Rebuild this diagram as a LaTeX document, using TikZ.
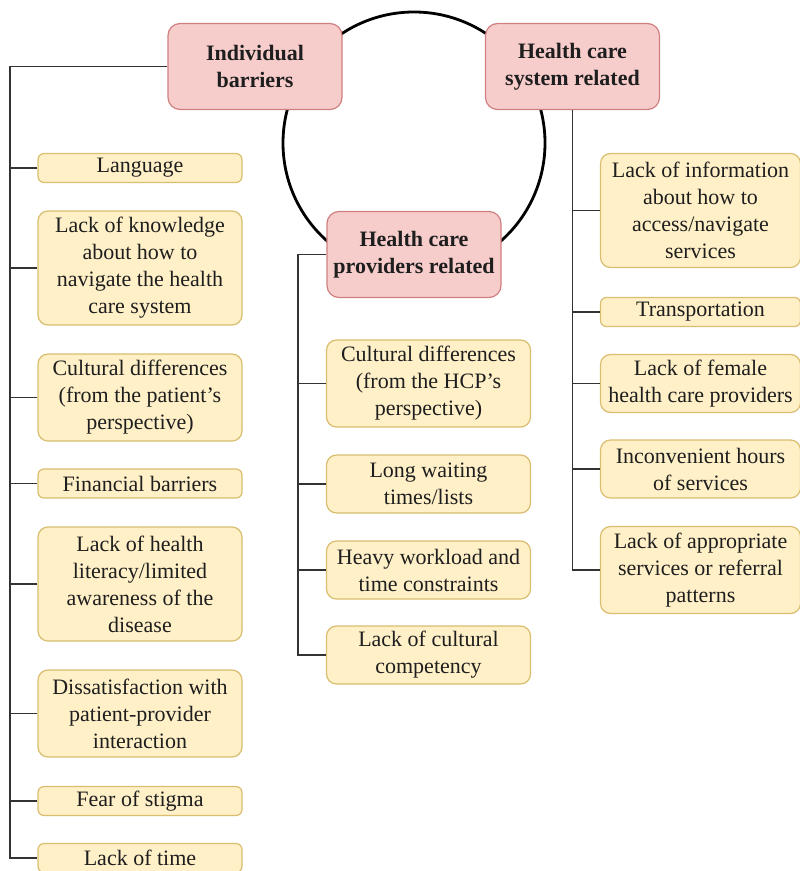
\documentclass[tikz,border=0pt]{standalone}
\usepackage{fontspec}
\setmainfont{Liberation Serif}
\definecolor{pinkfill}{HTML}{F7CDCC}
\definecolor{pinkline}{HTML}{CF7F80}
\definecolor{yelfill}{HTML}{FFF0C8}
\definecolor{yelline}{HTML}{DABD6E}
\definecolor{txt}{HTML}{1E1E1E}
\tikzset{
  head/.style={draw=pinkline, fill=pinkfill, rounded corners=6pt, line width=0.6pt,
    minimum width=87pt, minimum height=43pt, inner sep=0pt, align=center,
    text=txt, font=\bfseries\fontsize{11}{13.5}\selectfont},
  item/.style={draw=yelline, fill=yelfill, rounded corners=5pt, line width=0.6pt,
    inner sep=0pt, align=center, text=txt, font=\fontsize{11}{13.5}\selectfont},
  lcol/.style={item, minimum width=102pt},
  rcol/.style={item, minimum width=100pt},
  one/.style={minimum height=14.5pt, rounded corners=3pt},
  two/.style={minimum height=29pt},
  three/.style={minimum height=43.5pt},
  four/.style={minimum height=57pt},
  link/.style={draw=black!80, line width=0.9pt},
}
\begin{document}
\begin{tikzpicture}[x=0.5pt, y=-0.5pt]
      \useasboundingbox (0,0) rectangle (799,871);
      %
      \draw[line width=1.4pt] (414,143) circle[radius=65.5pt];
      %
      \node[head] (ib) at (255,66.5) {Individual\\barriers};
      \node[head] (hs) at (572.5,66.5) {Health care\\system related};
      \node[head] (hp) at (414,254.5) {Health care\\providers related};
      %
      \node[lcol, one]   (lang) at (140,168)   {Language};
      \node[lcol, four]  (know) at (140,268)   {Lack of knowledge\\about how to\\navigate the health\\care system};
      \node[lcol, three] (cdp)  at (140,397.5) {Cultural differences\\(from the patient’s\\perspective)};
      \node[lcol, one]   (fin)  at (140,483.5) {Financial barriers};
      \node[lcol, four]  (lit)  at (140,584)   {Lack of health\\literacy/limited\\awareness of the\\disease};
      \node[lcol, three] (dis)  at (140,713.5) {Dissatisfaction with\\patient-provider\\interaction};
      \node[lcol, one]   (fear) at (140,801)   {Fear of stigma};
      \node[lcol, one]   (time) at (140,858)   {Lack of time};
      %
      \node[lcol, three] (cdh)  at (428.5,383.5) {Cultural differences\\(from the HCP’s\\perspective)};
      \node[lcol, two]   (wait) at (428.5,484)   {Long waiting\\times/lists};
      \node[lcol, two]   (work) at (428.5,570)   {Heavy workload and\\time constraints};
      \node[lcol, two]   (comp) at (428.5,655)   {Lack of cultural\\competency};
      %
      \node[rcol, four]  (info) at (700.5,210.5) {Lack of information\\about how to\\access/navigate\\services};
      \node[rcol, one]   (tran) at (700.5,312)   {Transportation};
      \node[rcol, two]   (fem)  at (700.5,383.5) {Lack of female\\health care providers};
      \node[rcol, two]   (hour) at (700.5,469)   {Inconvenient hours\\of services};
      \node[rcol, three] (appr) at (700.5,570)   {Lack of appropriate\\services or referral\\patterns};
      %
      \coordinate (ltrunk) at (10,858);
      \coordinate (mtrunk) at (298,655);
      %
      \draw[link] (ib.west) -| (ltrunk) -- (time.west);
      \foreach \b in {lang,know,cdp,fin,lit,dis,fear}
        \draw[link] (\b.west) -- (\b.west -| ltrunk);
      %
      \draw[link] (hp.west) -| (mtrunk) -- (comp.west);
      \foreach \b in {cdh,wait,work}
        \draw[link] (\b.west) -- (\b.west -| mtrunk);
      %
      \draw[link] (hs.south) -- (hs.south |- appr.west) -- (appr.west);
      \foreach \b in {info,tran,fem,hour}
        \draw[link] (\b.west) -- (\b.west -| hs.south);
      %
    \end{tikzpicture}
\end{document}
